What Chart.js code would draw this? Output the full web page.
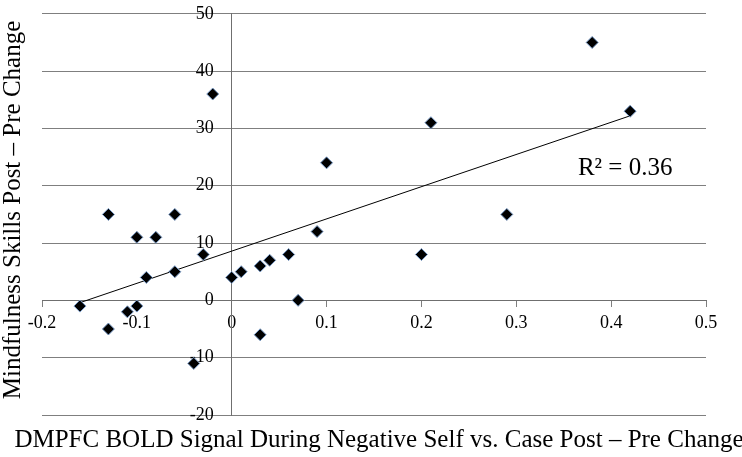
<!DOCTYPE html>
<html>
<head>
<meta charset="utf-8">
<script src="https://cdn.jsdelivr.net/npm/chart.js@4/dist/chart.umd.min.js"></script>
<style>
  html, body { margin: 0; padding: 0; background: #fff; }
  #wrap { width: 742px; height: 457px; }
</style>
</head>
<body>
<div id="wrap"><canvas id="GraficoDispersao"></canvas></div>
<script>
// valores
var sinalDMPFC = [-0.16, -0.13, -0.06, -0.10, -0.08, -0.03, -0.09, -0.06, 0.00, 0.01,
                  0.03, 0.04, 0.06, 0.09, 0.07, -0.11, -0.10, -0.13, 0.03, -0.04,
                  -0.02, 0.10, 0.38, 0.42, 0.21, 0.29, 0.20];
var mindfulness = [-1, 15, 15, 11, 11, 8, 4, 5, 4, 5,
                   6, 7, 8, 12, 0, -2, -1, -5, -6, -11,
                   36, 24, 45, 33, 31, 15, 8];
var tendenciaX = [-0.16, 0.42];
var tendenciaY = [-0.4, 32.2];
var ticksX = [-0.2, -0.1, 0, 0.1, 0.2, 0.3, 0.4, 0.5];
var ticksY = [-20, -10, 0, 10, 20, 30, 40, 50];
var rotuloR2 = 'R\u00b2 = 0.36';
var posicaoR2 = [0.365, 23.1];
var tituloX = 'DMPFC BOLD Signal During Negative Self vs. Case Post \u2013 Pre Change';
var tituloY = 'Mindfulness Skills Post \u2013 Pre Change';

var pontos = sinalDMPFC.map(function (x, i) { return { x: x, y: mindfulness[i] }; });
var linha = tendenciaX.map(function (x, i) { return { x: x, y: tendenciaY[i] }; });

var serifa = '"Liberation Serif", "Times New Roman", serif';
var fonteTitulo = '25px ' + serifa;

var textosExtras = {
    id: 'textosExtras',
    afterDraw: function (chart) {
        var ctx = chart.ctx;
        ctx.save();
        ctx.fillStyle = '#000';
        ctx.font = fonteTitulo;
        ctx.textAlign = 'center';
        ctx.textBaseline = 'middle';
        ctx.fillText(tituloX, 379, 440);
        ctx.translate(13, 210);
        ctx.rotate(-Math.PI / 2);
        ctx.fillText(tituloY, 0, 0);
        ctx.restore();

        ctx.save();
        ctx.fillStyle = '#000';
        ctx.font = fonteTitulo;
        ctx.textAlign = 'left';
        ctx.textBaseline = 'middle';
        ctx.fillText(rotuloR2, chart.scales.x.getPixelForValue(posicaoR2[0]),
            chart.scales.y.getPixelForValue(posicaoR2[1]));
        ctx.restore();
    }
};

new Chart(document.getElementById("GraficoDispersao"), {
    type: 'scatter',
    data: {
        datasets: [{
            label: 'Tendencia',
            data: linha,
            showLine: true,
            borderColor: '#000',
            borderWidth: 1,
            pointRadius: 0,
            order: 2
        }, {
            label: 'Participantes',
            data: pontos,
            pointStyle: 'rectRot',
            pointRadius: 6,
            pointHoverRadius: 6,
            backgroundColor: '#000',
            borderColor: '#7a9cc8',
            borderWidth: 1,
            order: 1
        }]
    },
    plugins: [textosExtras],
    options: {
        responsive: true,
        maintainAspectRatio: false,
        animation: false,
        layout: {
            padding: { left: 42, right: 36, top: 9, bottom: 42 }
        },
        plugins: {
            legend: { display: false },
            tooltip: { enabled: false }
        },
        scales: {
            x: {
                type: 'linear',
                position: { y: 0 },
                min: -0.2,
                max: 0.5,
                afterFit: function (s) { s.height = 0; },
                afterBuildTicks: function (s) {
                    s.ticks = ticksX.map(function (v) { return { value: v }; });
                },
                grid: {
                    drawOnChartArea: false,
                    drawTicks: true,
                    tickLength: 6,
                    color: '#7f7f7f'
                },
                border: { display: true, color: '#6f6f6f', width: 1 },
                ticks: {
                    padding: 6,
                    color: '#000',
                    font: { family: serifa, size: 18 },
                    callback: function (v) { return String(v); }
                }
            },
            y: {
                type: 'linear',
                position: { x: 0 },
                min: -20,
                max: 50,
                afterFit: function (s) { s.width = 0; },
                afterBuildTicks: function (s) {
                    s.ticks = ticksY.map(function (v) { return { value: v }; });
                },
                grid: {
                    drawTicks: false,
                    color: '#7f7f7f',
                    lineWidth: 1
                },
                border: { display: true, color: '#6f6f6f', width: 1 },
                ticks: {
                    color: '#000',
                    font: { family: serifa, size: 18 },
                    // espacos no fim afastam o rotulo do eixo
                    callback: function (v) { return String(v) + '\u2002\u2002'; }
                }
            }
        }
    }
});
</script>
</body>
</html>
